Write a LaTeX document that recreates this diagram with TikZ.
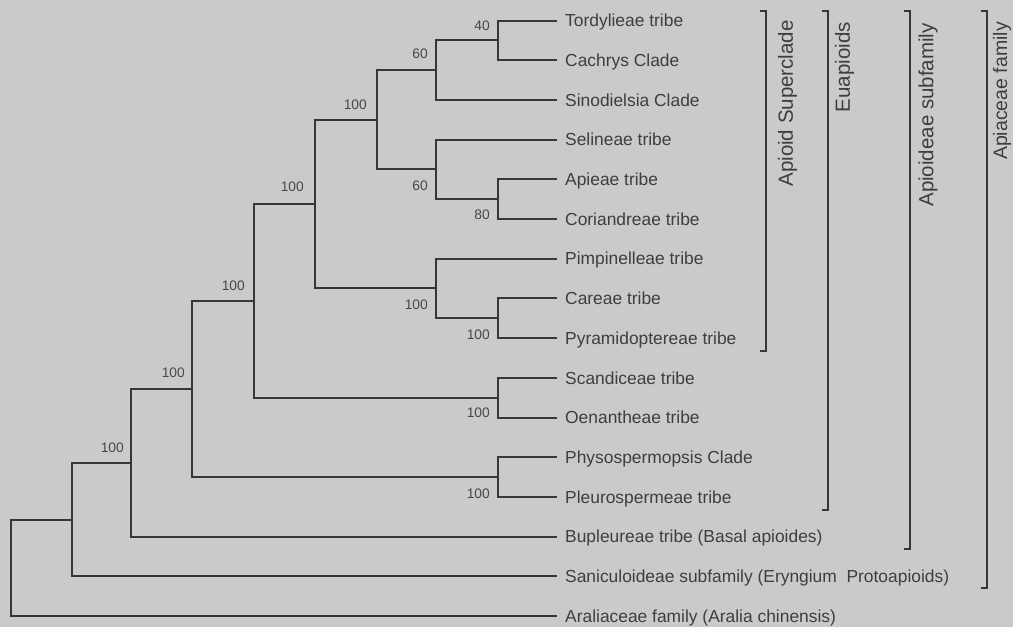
\documentclass[tikz,border=0pt]{standalone}
\usepackage{fontspec}
\setmainfont{Liberation Sans}
\definecolor{bgc}{RGB}{202,202,202}
\definecolor{linec}{RGB}{55,55,55}
\definecolor{textc}{RGB}{62,62,62}
\definecolor{bootc}{RGB}{72,72,72}
\begin{document}
\begin{tikzpicture}[x=1pt,y=-1pt,
  branch/.style={draw=linec,line width=2pt},
  taxon/.style={anchor=west,inner xsep=8pt,inner ysep=0pt,text height=12.5pt,text depth=0pt,text=textc,font=\fontsize{17.4}{20}\selectfont},
  boot/.style={anchor=east,inner sep=0pt,text height=9.9pt,text depth=0pt,text=bootc,font=\fontsize{13.8}{16}\selectfont},
  grouplbl/.style={rotate=90,anchor=east,inner sep=0pt,text height=14.8pt,text depth=0pt,text=textc,font=\fontsize{20.5}{24}\selectfont},
  bracket/.style={draw=linec,line width=1.8pt}]
\fill[bgc] (0,0) rectangle (1013,627);
\useasboundingbox (0,0) rectangle (1013,627);

% taxa
\node[taxon] (L0)  at (557,20.5)  {Tordylieae tribe};
\node[taxon] (L1)  at (557,60.2)  {Cachrys Clade};
\node[taxon] (L2)  at (557,99.9)  {Sinodielsia Clade};
\node[taxon] (L3)  at (557,139.6) {Selineae tribe};
\node[taxon] (L4)  at (557,179.3) {Apieae tribe};
\node[taxon] (L5)  at (557,219.0) {Coriandreae tribe};
\node[taxon] (L6)  at (557,258.7) {Pimpinelleae tribe};
\node[taxon] (L7)  at (557,298.4) {Careae tribe};
\node[taxon] (L8)  at (557,338.1) {Pyramidoptereae tribe};
\node[taxon] (L9)  at (557,377.8) {Scandiceae tribe};
\node[taxon] (L10) at (557,417.5) {Oenantheae tribe};
\node[taxon] (L11) at (557,457.2) {Physospermopsis Clade};
\node[taxon] (L12) at (557,496.9) {Pleurospermeae tribe};
\node[taxon] (L13) at (557,536.6) {Bupleureae tribe (Basal apioides)};
\node[taxon] (L14) at (557,576.3) {Saniculoideae subfamily (Eryngium~ Protoapioids)};
\node[taxon] (L15) at (557,616.0) {Araliaceae family (Aralia chinensis)};

% internal nodes
\coordinate (tc)   at (498,40.35);
\coordinate (tcs)  at (436,70.13);
\coordinate (ac)   at (498,199.15);
\coordinate (sac)  at (436,169.38);
\coordinate (AB)   at (377,119.75);
\coordinate (cp)   at (498,318.25);
\coordinate (pcp)  at (436,288.48);
\coordinate (ABP)  at (315,204.1);
\coordinate (so)   at (498,397.65);
\coordinate (n254) at (254,300.9);
\coordinate (pp)   at (498,477.05);
\coordinate (n192) at (192,388.95);
\coordinate (n131) at (131,462.8);
\coordinate (n72)  at (72,519.55);
\coordinate (root) at (11,567.8);

% branches
\draw[branch] (tc) |- (L0.west);
\draw[branch] (tc) |- (L1.west);
\draw[branch] (tcs) |- (tc);
\draw[branch] (tcs) |- (L2.west);
\draw[branch] (ac) |- (L4.west);
\draw[branch] (ac) |- (L5.west);
\draw[branch] (sac) |- (L3.west);
\draw[branch] (sac) |- (ac);
\draw[branch] (AB) |- (tcs);
\draw[branch] (AB) |- (sac);
\draw[branch] (cp) |- (L7.west);
\draw[branch] (cp) |- (L8.west);
\draw[branch] (pcp) |- (L6.west);
\draw[branch] (pcp) |- (cp);
\draw[branch] (ABP) |- (AB);
\draw[branch] (ABP) |- (pcp);
\draw[branch] (so) |- (L9.west);
\draw[branch] (so) |- (L10.west);
\draw[branch] (n254) |- (ABP);
\draw[branch] (n254) |- (so);
\draw[branch] (pp) |- (L11.west);
\draw[branch] (pp) |- (L12.west);
\draw[branch] (n192) |- (n254);
\draw[branch] (n192) |- (pp);
\draw[branch] (n131) |- (n192);
\draw[branch] (n131) |- (L13.west);
\draw[branch] (n72) |- (n131);
\draw[branch] (n72) |- (L14.west);
\draw[branch] (root) |- (n72);
\draw[branch] (root) |- (L15.west);

% bootstrap values
\node[boot] (b1)  at (490,26)  {40};
\node[boot] (b2)  at (428,54)  {60};
\node[boot] (b3)  at (367,105) {100};
\node[boot] (b4)  at (428,186) {60};
\node[boot] (b5)  at (490,215) {80};
\node[boot] (b6)  at (304,187) {100};
\node[boot] (b7)  at (428,305) {100};
\node[boot] (b8)  at (490,335) {100};
\node[boot] (b9)  at (490,413) {100};
\node[boot] (b10) at (245,286) {100};
\node[boot] (b11) at (490,494) {100};
\node[boot] (b12) at (185,373) {100};
\node[boot] (b13) at (124,448) {100};

% brackets
\coordinate (k1t) at (766,11);  \coordinate (k1b) at (766,351);
\coordinate (k2t) at (828,11);  \coordinate (k2b) at (828,510);
\coordinate (k3t) at (910,11);  \coordinate (k3b) at (910,549);
\coordinate (k4t) at (987,11);  \coordinate (k4b) at (987,588);
\draw[bracket] ([xshift=-6pt]k1t) -- (k1t) -- (k1b) -- ([xshift=-6pt]k1b);
\draw[bracket] ([xshift=-6pt]k2t) -- (k2t) -- (k2b) -- ([xshift=-6pt]k2b);
\draw[bracket] ([xshift=-6pt]k3t) -- (k3t) -- (k3b) -- ([xshift=-6pt]k3b);
\draw[bracket] ([xshift=-6pt]k4t) -- (k4t) -- (k4b) -- ([xshift=-6pt]k4b);
\node[grouplbl] (g1) at (785.5,20) {Apioid Superclade};
\node[grouplbl] (g2) at (842.5,22) {Euapioids};
\node[grouplbl] (g3) at (926,23)   {Apioideae subfamily};
\node[grouplbl,font=\fontsize{19.5}{23}\selectfont,text height=14pt] (g4) at (1000,22) {Apiaceae family};
\end{tikzpicture}
\end{document}
